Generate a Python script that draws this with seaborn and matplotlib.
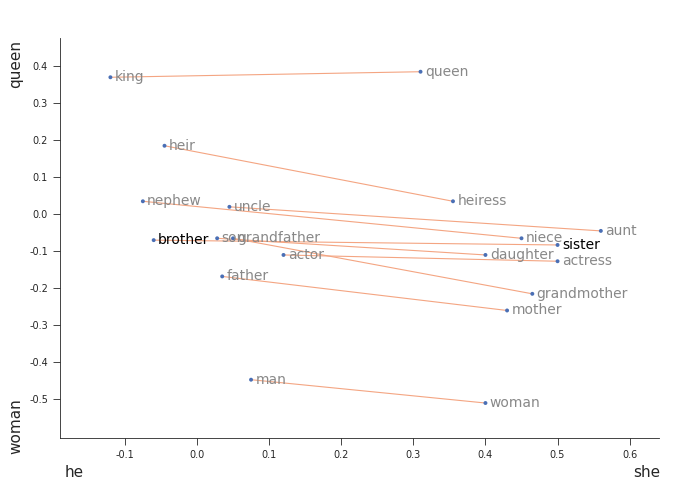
import matplotlib
matplotlib.use("Agg")
import matplotlib.pyplot as plt
import seaborn as sns
import pandas as pd

male = ["king", "heir", "nephew", "uncle", "brother", "son", "grandfather", "actor", "father", "man"]
female = ["queen", "heiress", "niece", "aunt", "sister", "daughter", "grandmother", "actress", "mother", "woman"]
male_x = [-0.12, -0.045, -0.075, 0.045, -0.06, 0.028, 0.05, 0.12, 0.035, 0.075]
male_y = [0.37, 0.185, 0.035, 0.02, -0.07, -0.065, -0.065, -0.11, -0.168, -0.447]
female_x = [0.31, 0.355, 0.45, 0.56, 0.5, 0.4, 0.465, 0.5, 0.43, 0.4]
female_y = [0.385, 0.035, -0.065, -0.045, -0.083, -0.11, -0.215, -0.127, -0.26, -0.51]
dark = {"brother", "sister"}

sns.set_style("ticks")
fig, ax = plt.subplots(figsize=(6.81, 4.94), dpi=100)
fig.subplots_adjust(left=0.088, right=0.967, top=0.923, bottom=0.113)

for mx, my, fx, fy in zip(male_x, male_y, female_x, female_y):
    ax.plot([mx, fx], [my, fy], color="#f4a582", lw=0.8, zorder=1)

df = pd.DataFrame({"x": male_x + female_x, "y": male_y + female_y, "w": male + female})
sns.scatterplot(data=df, x="x", y="y", ax=ax, color="#4a6fb5", s=8, edgecolor="none", zorder=2)
for _, r in df.iterrows():
    ax.text(r.x + 0.006, r.y, r.w, fontsize=10, va="center",
            color="black" if r.w in dark else "#888888")

ax.set_xlim(-0.19, 0.64)
ax.set_ylim(-0.605, 0.476)
ax.set_xticks([-0.1, 0, 0.1, 0.2, 0.3, 0.4, 0.5, 0.6])
ax.set_xticklabels(["-0.1", "0.0", "0.1", "0.2", "0.3", "0.4", "0.5", "0.6"])
ax.set_yticks([-0.5, -0.4, -0.3, -0.2, -0.1, 0, 0.1, 0.2, 0.3, 0.4])
ax.set_yticklabels(["-0.5", "-0.4", "-0.3", "-0.2", "-0.1", "0.0", "0.1", "0.2", "0.3", "0.4"])
ax.tick_params(labelsize=7, length=5, width=0.6)
for s in ["left", "bottom"]:
    ax.spines[s].set_linewidth(0.6)
sns.despine(ax=ax)
ax.set_xlabel("")
ax.set_ylabel("")
fig.text(0.012, 0.92, "queen", rotation=90, fontsize=11, va="top")
fig.text(0.012, 0.08, "woman", rotation=90, fontsize=11, va="bottom")
fig.text(0.095, 0.035, "he", fontsize=11)
fig.text(0.93, 0.035, "she", fontsize=11)
fig.savefig("out.png", dpi=100)
